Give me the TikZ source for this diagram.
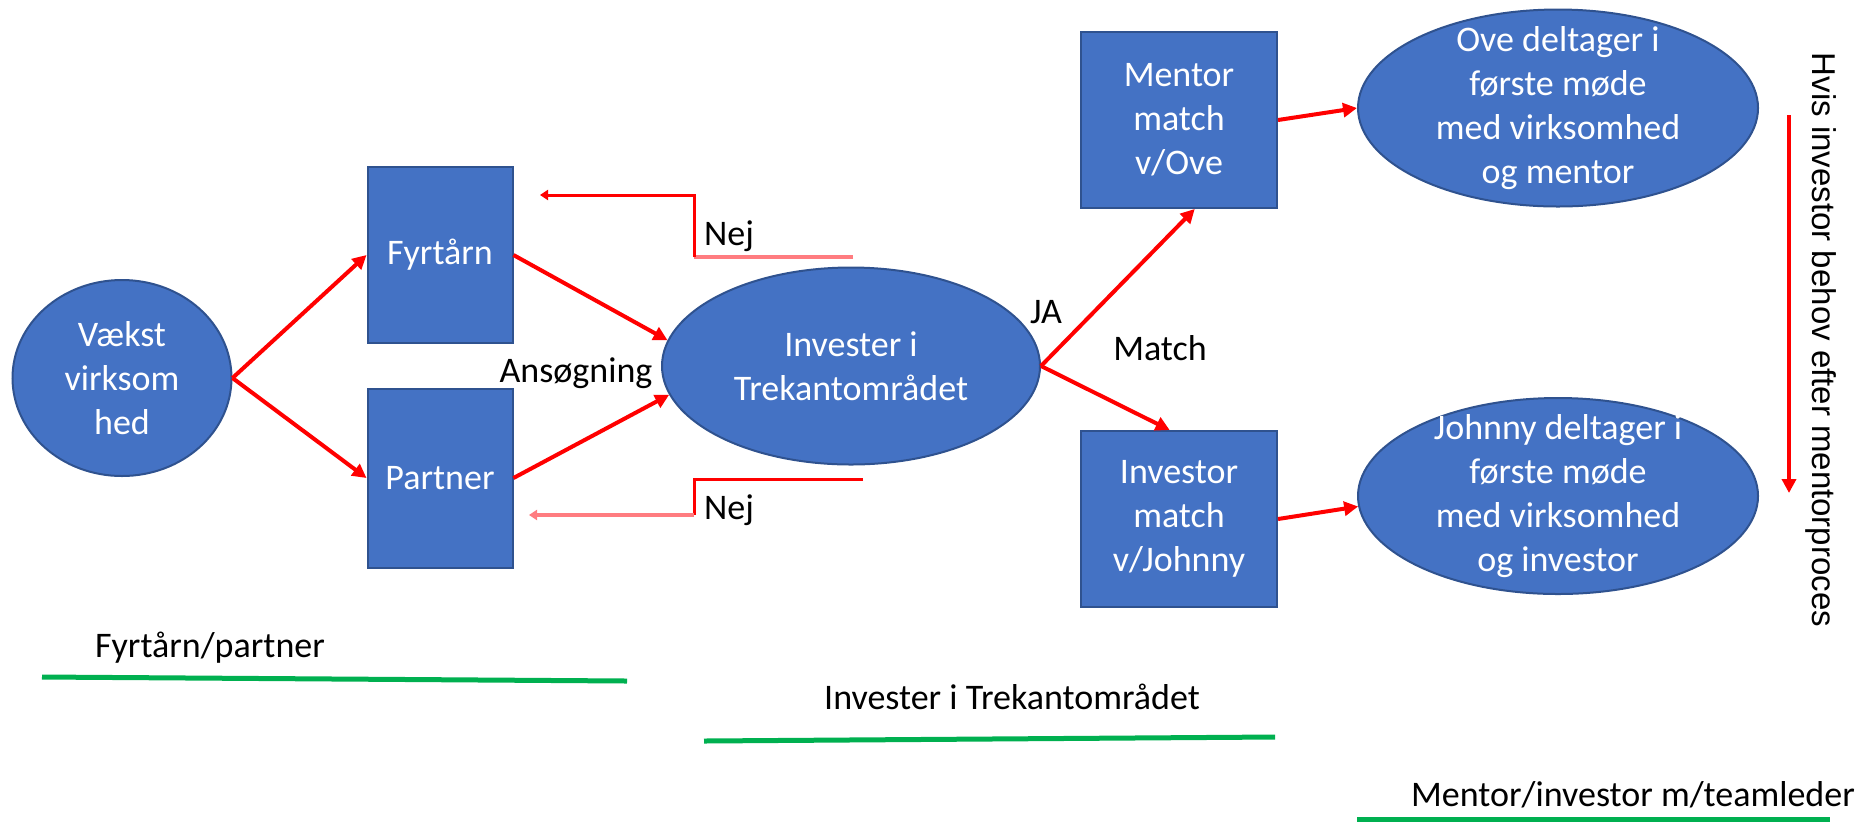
\documentclass[tikz,border=0pt]{standalone}
\usepackage{fontspec}
\setmainfont{Carlito}
\newfontfamily\lodretfont{Liberation Sans}
\usetikzlibrary{positioning}
\usetikzlibrary{shapes.geometric}
\usetikzlibrary{arrows.meta}

\definecolor{kasseblaa}{HTML}{4472C4}
\definecolor{kantblaa}{HTML}{2F528F}
\definecolor{lysroed}{HTML}{FF7C80}
\definecolor{groen}{HTML}{00B050}

\begin{document}
\begin{tikzpicture}[x=0.5pt, y=-0.5pt,
  every node/.style={font=\fontsize{18}{22}\selectfont},
  kasse/.style={rectangle, draw=kantblaa, line width=1pt, fill=kasseblaa, text=white, align=center, inner sep=0pt},
  rund/.style={ellipse, draw=kantblaa, line width=1pt, fill=kasseblaa, inner sep=0pt},
  hvid/.style={text=white, align=center, font=\fontsize{18}{22}\selectfont},
  pil/.style={draw=red, line width=2pt, -{Triangle[length=7pt, width=7pt]}},
  nej/.style={draw=red, line width=1.5pt},
  nejlys/.style={draw=lysroed, line width=2pt},
  lille/.style={-{Triangle[length=4pt, width=5pt]}},
  streg/.style={draw=groen, line width=2.5pt}
]
\useasboundingbox (0,0) rectangle (1872,821);

% Start
\node[rund, minimum width=109.5pt, minimum height=98pt, label={[hvid]center:Vækst\\virksom\\hed}] (V) at (122,378) {};

% Niveau 1
\node[kasse, minimum width=72.5pt, minimum height=88pt] (F) at (440,255) {Fyrtårn};
\node[kasse, minimum width=72.5pt, minimum height=89.5pt] (P) at (440,478) {Partner};

% Niveau 2
\node[rund, minimum width=189pt, minimum height=98.5pt, label={[hvid]center:Invester i\\Trekantområdet}] (I) at (851,366) {};

% Niveau 3
\node[kasse, minimum width=98pt, minimum height=88pt] (M) at (1179,120) {Mentor\\match\\v/Ove};
\node[kasse, minimum width=98pt, minimum height=88pt] (N) at (1179,519) {Investor\\match\\v/Johnny};

% Niveau 4
\node[rund, minimum width=200pt, minimum height=98.5pt, label={[hvid]center:Ove deltager i\\første møde\\med virksomhed\\og mentor}] (O) at (1558,108) {};
\node[rund, minimum width=200pt, minimum height=98pt, label={[hvid]center:Johnny deltager i\\første møde\\med virksomhed\\og investor}] (J) at (1558,496) {};

% Pile
\draw[pil] (V.east) -- (F.west);
\draw[pil] (V.east) -- (P.west);
\draw[pil] (F.east) -- (I.172);
\draw[pil] (P.east) -- (I.189);
\draw[pil] (I.east) -- (M.-80);
\draw[pil] (I.east) -- (N.96);
\draw[pil] (M.east) -- (O.west);
\draw[pil] (N.east) -- (J.183);

% Nej retur
\coordinate (n1) at (853,257);
\coordinate (n2) at (694,257);
\coordinate (n3) at (540,195);
\draw[nejlys] (n1) -- (n2);
\draw[nej, lille] (n2) |- (n3);

\coordinate (n4) at (863,479);
\coordinate (n5) at (694,479);
\coordinate (n6) at (694,515);
\coordinate (n7) at (529,515);
\draw[nej] (n4) -- (n5) -- (n6);
\draw[nejlys, lille] (n6) -- (n7);

% Tekster
\node (Ans) at (576,373) {Ansøgning};
\node (JA) at (1046,312) {JA};
\node (Ma) at (1160,348) {Match};
\node[anchor=west] (Nej1) at (697,236) {Nej};
\node[anchor=west] (Nej2) at (697,510) {Nej};

% Lodret
\coordinate (h1) at (1789,115);
\coordinate (h2) at (1789,493);
\draw[pil] (h1) -- (h2);
\node[rotate=-90, font=\lodretfont\fontsize{16.5}{20}\selectfont] (Hv) at (1821,340) {Hvis investor behov efter mentorproces};

% Faser
\node (T1) at (210,648) {Fyrtårn/partner};
\coordinate (g1) at (42,677);
\coordinate (g2) at (627,681);
\draw[streg] (g1) -- (g2);

\node (T2) at (1012,697) {Invester i Trekantområdet};
\coordinate (g3) at (704,741);
\coordinate (g4) at (1275,737);
\draw[streg] (g3) -- (g4);

\node (T3) at (1633,795) {Mentor/investor m/teamleder};
\coordinate (g5) at (1357,819);
\coordinate (g6) at (1830,819);
\draw[streg] (g5) -- (g6);

\end{tikzpicture}
\end{document}
